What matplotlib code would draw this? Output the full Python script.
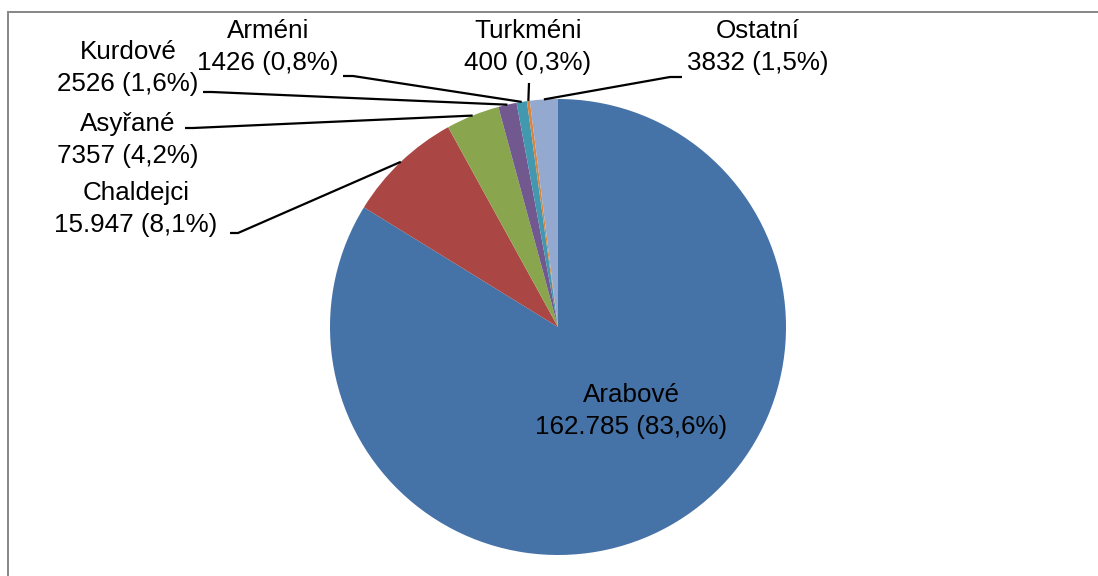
import numpy as np
import matplotlib
matplotlib.use("Agg")
import matplotlib.pyplot as plt
from matplotlib.patches import Rectangle

# ---- data ----
categories = ["Arabové", "Chaldejci", "Asyřané", "Kurdové", "Arméni", "Turkméni", "Ostatní"]
values = [162785, 15947, 7357, 2526, 1426, 400, 3832]
pct_labels = ["83,6%", "8,1%", "4,2%", "1,6%", "0,8%", "0,3%", "1,5%"]
colors = ["#4572A7", "#AA4643", "#89A54E", "#71588F", "#4198AF", "#DB843D", "#93A9CF"]

W, H = 1098, 576
CX, CY, R = 558, 327, 228  # pie centre / radius in pixels

def px(x, y):
    return ((x - CX) / R, (CY - y) / R)

# label centres (pixels) and leader-line start points (pixels)
label_pos = [(631, 411), (136, 209), (128, 140), (128, 68), (268, 47), (528, 47), (758, 47)]
leader_start = [None, [(230, 233), (238, 233)], [(185, 128), (193, 128)],
                [(203, 92), (212, 92)], [(343, 76), (353, 76)], [(529, 83)],
                [(682, 77), (670, 77)]]

def fmt(v):
    return f"{v:,}".replace(",", ".") if v >= 10000 else str(v)

plt.rcParams['font.family'] = ['Liberation Sans', 'DejaVu Sans']
fig = plt.figure(figsize=(W / 100, H / 100), dpi=100)
ax = fig.add_axes([0, 0, 1, 1])

wedges, _ = ax.pie(values, colors=colors, startangle=90, counterclock=False,
                   radius=1.0, center=(0, 0), frame=True,
                   wedgeprops=dict(linewidth=0))
ax.set_xlim(-CX / R, (W - CX) / R)
ax.set_ylim((CY - H) / R, CY / R)
ax.set_aspect("auto")
ax.axis("off")

for i, w in enumerate(wedges):
    name = categories[i]
    txt = f"{name}\n{fmt(values[i])} ({pct_labels[i]})"
    lx, ly = px(*label_pos[i])
    ax.text(lx, ly, txt, ha="center", va="center", fontsize=18.7,
            linespacing=1.4, color="black")
    if leader_start[i] is not None:
        mid = np.deg2rad((w.theta1 + w.theta2) / 2)
        ax_, ay_ = np.cos(mid) * 1.0, np.sin(mid) * 1.0
        pts = [px(*p) for p in leader_start[i]] + [(ax_, ay_)]
        xs, ys = zip(*pts)
        ax.plot(xs, ys, color="black", lw=1.6, solid_capstyle="butt")

# chart frame
fig.patches.append(Rectangle((8 / W, -0.1), 1.2, 1.1 - 12 / H,
                             transform=fig.transFigure, fill=False,
                             edgecolor="#868686", linewidth=1.4))

fig.savefig("out.png", dpi=100, facecolor="white")
